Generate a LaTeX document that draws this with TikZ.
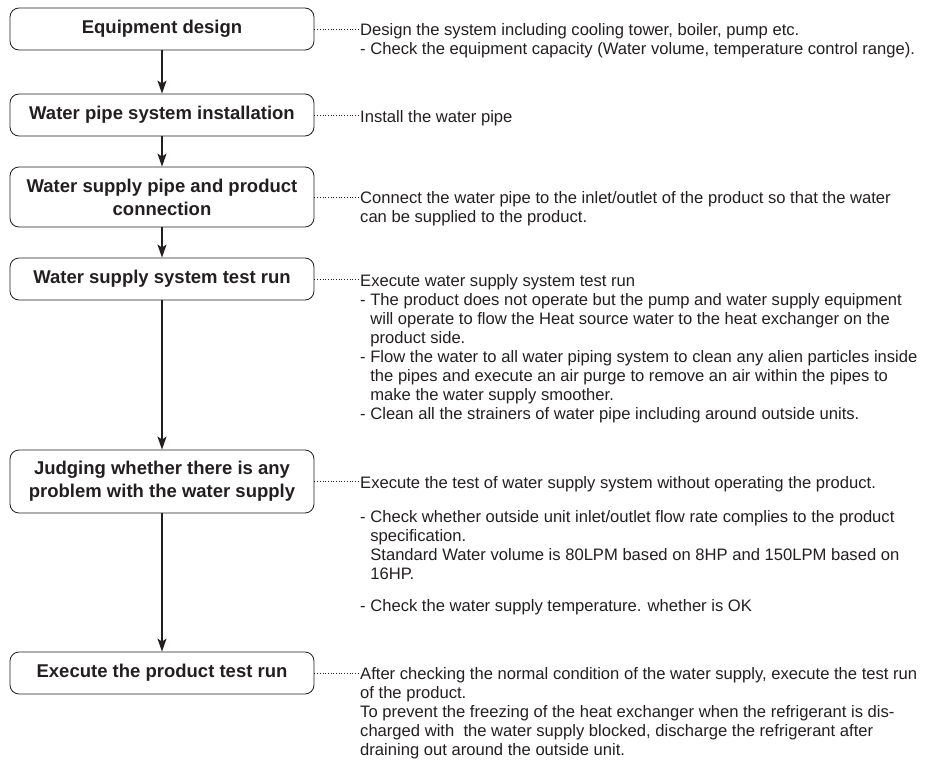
\documentclass[tikz,border=0pt]{standalone}
\usepackage{fontspec}
\setmainfont{Liberation Sans}
\usetikzlibrary{arrows.meta}
\definecolor{ink}{HTML}{231F20}
\tikzset{
  stepbox/.style={draw=ink, line width=0.8pt, rounded corners=9pt, minimum width=304pt, minimum height=42pt,
    align=center, font=\fontsize{18.5}{23}\selectfont\bfseries, text=ink, inner sep=2pt},
  desc/.style={anchor=north west, yshift=11.8pt, align=left, inner sep=0pt, text=ink,
    font=\fontsize{16.6}{19}\selectfont, execute at begin node=\strut},
  flow/.style={draw=ink, line width=1.4pt, -{Stealth[length=13pt,width=9pt,inset=3pt]}},
  lead/.style={draw=ink, line width=0.7pt, dotted}
}
\newcommand{\ind}{\phantom{- }}
\begin{document}
\begin{tikzpicture}[x=1pt, y=-1pt]
	\useasboundingbox (0,0) rectangle (928,765);
	% steps
	\node[stepbox] (eq) at (162,29) {Equipment design};
	\node[stepbox] (pipe) at (162,115) {Water pipe system installation};
	\node[stepbox, minimum height=60pt] (conn) at (162,197) {Water supply pipe and product\\connection};
	\node[stepbox] (wtest) at (162,279) {Water supply system test run};
	\node[stepbox, minimum height=63pt] (judge) at (162,481.5) {Judging whether there is any\\problem with the water supply};
	\node[stepbox] (ptest) at (162,673) {Execute the product test run};
	\draw[flow] (eq) -- (pipe);
	\draw[flow] (pipe) -- (conn);
	\draw[flow] (conn) -- (wtest);
	\draw[flow] (wtest) -- (judge);
	\draw[flow] (judge) -- (ptest);
	% notes
	\node[desc] (n1) at (360,35) {Design the system including cooling tower, boiler, pump etc.\\
		- Check the equipment capacity (Water volume, temperature control range).};
	\node[desc] (n2) at (360,121) {Install the water pipe};
	\node[desc] (n3) at (360,203) {Connect the water pipe to the inlet/outlet of the product so that the water\\
		can be supplied to the product.};
	\node[desc] (n4) at (360,286) {Execute water supply system test run\\
		- The product does not operate but the pump and water supply equipment\\
		\ind will operate to flow the Heat source water to the heat exchanger on the\\
		\ind product side.\\
		- Flow the water to all water piping system to clean any alien particles inside\\
		\ind the pipes and execute an air purge to remove an air within the pipes to\\
		\ind make the water supply smoother.\\
		- Clean all the strainers of water pipe including around outside units.};
	\node[desc] (n5) at (360,488) {Execute the test of water supply system without operating the product.\\[15pt]
		- Check whether outside unit inlet/outlet flow rate complies to the product\\
		\ind specification.\\
		\ind Standard Water volume is 80LPM based on 8HP and 150LPM based on\\
		\ind 16HP.\\[13pt]
		- Check the water supply temperature. whether is OK};
	\node[desc] (n6) at (360,679) {After checking the normal condition of the water supply, execute the test run\\
		of the product.\\
		To prevent the freezing of the heat exchanger when the refrigerant is dis-\\
		charged with\ \ the water supply blocked, discharge the refrigerant after\\
		draining out around the outside unit.};
	% leaders
	\draw[lead] (eq.east) -- (eq.east -| n1.west);
	\draw[lead] (pipe.east) -- (pipe.east -| n2.west);
	\draw[lead] (conn.east) -- (conn.east -| n3.west);
	\draw[lead] (wtest.east) -- (wtest.east -| n4.west);
	\draw[lead] (judge.east) -- (judge.east -| n5.west);
	\draw[lead] (ptest.east) -- (ptest.east -| n6.west);
\end{tikzpicture}
\end{document}
